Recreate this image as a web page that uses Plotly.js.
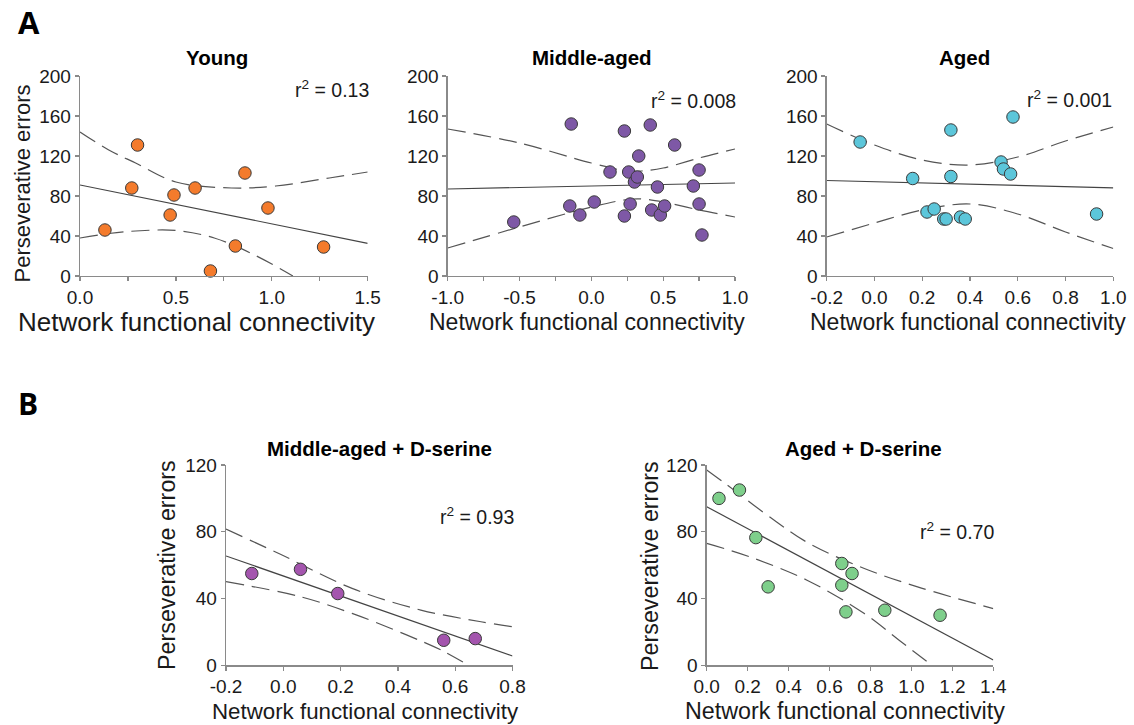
<!DOCTYPE html>
<html>
<head>
<meta charset="utf-8">
<script src="https://cdn.plot.ly/plotly-3.0.1.min.js"></script>
<style>
html,body{margin:0;padding:0;background:#fff;}
#chart{width:1134px;height:725px;}
</style>
</head>
<body>
<div id="chart"></div>
<script>
// ---------- Data ----------
// Young
var youngX = [0.13, 0.30, 0.27, 0.49, 0.47, 0.60, 0.86, 0.98, 0.81, 0.68, 1.27];
var youngY = [46, 131, 88, 81, 61, 88, 103, 68, 30, 5, 29];
var youngFitX = [0, 1.5];
var youngFitY = [91, 32.7];
var youngUpperX = [0, 0.15, 0.29, 0.5, 0.79, 1.02, 1.3, 1.5];
var youngUpperY = [144, 126, 113, 94, 88, 90, 98, 104];
var youngLowerX = [0, 0.15, 0.29, 0.5, 0.7, 0.91, 1.11];
var youngLowerY = [38, 42.5, 45, 45.5, 38, 21, 0];

// Middle-aged
var midX = [-0.54, -0.14, -0.15, -0.08, 0.02, 0.13, 0.23, 0.26, 0.23, 0.27, 0.30, 0.32, 0.33, 0.41, 0.42, 0.46, 0.48, 0.51, 0.58, 0.71, 0.75, 0.75, 0.77];
var midY = [54, 152, 70, 61, 74, 104, 145, 104, 60, 72, 94, 99, 120, 151, 66, 89, 61, 70, 131, 90, 106, 72, 41];
var midFitX = [-1, 1];
var midFitY = [87, 93];
var midUpperX = [-1, -0.5, 0, 0.25, 0.35, 0.5, 0.75, 1];
var midUpperY = [147, 133, 113, 105, 105, 108, 118, 127];
var midLowerX = [-1, -0.5, 0, 0.25, 0.35, 0.5, 0.75, 1];
var midLowerY = [28, 49, 69, 76.5, 77, 74, 66, 59];

// Aged
var agedX = [-0.06, 0.16, 0.32, 0.32, 0.22, 0.25, 0.29, 0.30, 0.36, 0.38, 0.53, 0.54, 0.57, 0.58, 0.93];
var agedY = [134, 97.5, 99.5, 146, 64, 67, 57, 57, 59, 57, 114, 107, 102, 159, 62];
var agedFitX = [-0.2, 1.0];
var agedFitY = [95.5, 88.2];
var agedUpperX = [-0.2, 0, 0.2, 0.4, 0.6, 0.8, 1.0];
var agedUpperY = [152, 131, 116, 111, 119, 135, 149];
var agedLowerX = [-0.2, 0, 0.2, 0.4, 0.6, 0.8, 1.0];
var agedLowerY = [39, 53, 66, 72, 62, 44, 27.5];

// Middle-aged + D-serine
var mdsX = [-0.11, 0.06, 0.19, 0.56, 0.67];
var mdsY = [55, 57.5, 43, 15, 16];
var mdsFitX = [-0.2, 0.8];
var mdsFitY = [65.5, 5.6];
var mdsUpperX = [-0.2, -0.01, 0.24, 0.48, 0.69, 0.8];
var mdsUpperY = [81.6, 66.5, 46.1, 33.1, 26.1, 23.1];
var mdsLowerX = [-0.2, 0.06, 0.24, 0.43, 0.55, 0.646];
var mdsLowerY = [50.1, 41.1, 31.1, 18.2, 9.2, 0];

// Aged + D-serine
var adsX = [0.06, 0.16, 0.24, 0.30, 0.66, 0.71, 0.66, 0.68, 0.87, 1.14];
var adsY = [100, 105, 76.5, 47, 61, 55, 48, 32, 33, 30];
var adsFitX = [0, 1.4];
var adsFitY = [95, 3.2];
var adsUpperX = [0, 0.1, 0.34, 0.5, 0.77, 1.03, 1.4];
var adsUpperY = [117, 108, 86, 73, 58, 47, 34];
var adsLowerX = [0, 0.21, 0.49, 0.77, 0.94, 1.10];
var adsLowerY = [73, 65, 51, 31, 15, 0];

// Tick labels
var youngTickVals = [0, 0.5, 1.0, 1.5];
var youngTickText = ['0.0', '0.5', '1.0', '1.5'];
var midTickVals = [-1, -0.5, 0, 0.5, 1];
var midTickText = ['-1.0', '-0.5', '0.0', '0.5', '1.0'];
var agedTickVals = [-0.2, 0, 0.2, 0.4, 0.6, 0.8, 1.0];
var agedTickText = ['-0.2', '0.0', '0.2', '0.4', '0.6', '0.8', '1.0'];
var mdsTickVals = [-0.2, 0, 0.2, 0.4, 0.6, 0.8];
var mdsTickText = ['-0.2', '0.0', '0.2', '0.4', '0.6', '0.8'];
var adsTickVals = [0, 0.2, 0.4, 0.6, 0.8, 1.0, 1.2, 1.4];
var adsTickText = ['0.0', '0.2', '0.4', '0.6', '0.8', '1.0', '1.2', '1.4'];

// Labels
var panelTitles = ['Young', 'Middle-aged', 'Aged', 'Middle-aged + D-serine', 'Aged + D-serine'];
var r2Labels = ['0.13', '0.008', '0.001', '0.93', '0.70'];
var xTitle = 'Network functional connectivity';
var yTitle = 'Perseverative errors';

// ---------- Build ----------
var W = 1134, H = 725;
function px(x){ return x / W; }
function py(y){ return 1 - y / H; }

var colors = ['#F47B2C', '#7E58A6', '#5CC6DA', '#A455AE', '#7ECF8B'];
var panels = [
  {x: youngX, y: youngY, fx: youngFitX, fy: youngFitY, ux: youngUpperX, uy: youngUpperY, lx: youngLowerX, ly: youngLowerY, tv: youngTickVals, tt: youngTickText},
  {x: midX, y: midY, fx: midFitX, fy: midFitY, ux: midUpperX, uy: midUpperY, lx: midLowerX, ly: midLowerY, tv: midTickVals, tt: midTickText},
  {x: agedX, y: agedY, fx: agedFitX, fy: agedFitY, ux: agedUpperX, uy: agedUpperY, lx: agedLowerX, ly: agedLowerY, tv: agedTickVals, tt: agedTickText},
  {x: mdsX, y: mdsY, fx: mdsFitX, fy: mdsFitY, ux: mdsUpperX, uy: mdsUpperY, lx: mdsLowerX, ly: mdsLowerY, tv: mdsTickVals, tt: mdsTickText},
  {x: adsX, y: adsY, fx: adsFitX, fy: adsFitY, ux: adsUpperX, uy: adsUpperY, lx: adsLowerX, ly: adsLowerY, tv: adsTickVals, tt: adsTickText}
];

// pixel boxes of each plot area [left, right, top, bottom]
var boxes = [
  [80, 367.7, 76, 276],
  [447.7, 735, 76, 276],
  [826.7, 1113.3, 76, 276],
  [226, 512.5, 465, 665.3],
  [706.7, 993.3, 465, 665.3]
];
var xRanges = [[0, 1.5], [-1, 1], [-0.2, 1.0], [-0.2, 0.8], [0, 1.4]];
var yRanges = [[0, 200], [0, 200], [0, 200], [0, 120], [0, 120]];
var xMinor = [0.25, 0.25, null, null, null];

var traces = [];
var layout = {
  width: W, height: H,
  margin: {l: 0, r: 0, t: 0, b: 0},
  paper_bgcolor: '#ffffff',
  plot_bgcolor: '#ffffff',
  showlegend: false,
  font: {family: 'Arial, "Liberation Sans", sans-serif', color: '#1a1a1a'},
  annotations: []
};

var axisColor = '#8a8a8a';
var dashStyle = '18px,8px';
var tickFontSize = 19;

panels.forEach(function(p, i){
  var n = i === 0 ? '' : String(i + 1);
  var xa = 'x' + n, ya = 'y' + n;
  traces.push({x: p.ux, y: p.uy, xaxis: xa, yaxis: ya, mode: 'lines', type: 'scatter',
    line: {color: '#555', width: 1.2, dash: dashStyle, shape: 'spline', smoothing: 1}, hoverinfo: 'skip'});
  traces.push({x: p.lx, y: p.ly, xaxis: xa, yaxis: ya, mode: 'lines', type: 'scatter',
    line: {color: '#555', width: 1.2, dash: dashStyle, shape: 'spline', smoothing: 1}, hoverinfo: 'skip'});
  traces.push({x: p.fx, y: p.fy, xaxis: xa, yaxis: ya, mode: 'lines', type: 'scatter',
    line: {color: '#444', width: 1.2}, hoverinfo: 'skip'});
  traces.push({x: p.x, y: p.y, xaxis: xa, yaxis: ya, mode: 'markers', type: 'scatter',
    marker: {color: colors[i], size: 12.5, line: {color: '#3a3a3a', width: 1}}, cliponaxis: false});

  var b = boxes[i];
  var xaxis = {
    domain: [px(b[0]), px(b[1])],
    anchor: ya,
    range: xRanges[i],
    showline: true, linecolor: axisColor, linewidth: 1.3,
    ticks: 'outside', ticklen: 4, tickwidth: 1.2, tickcolor: axisColor,
    tickmode: 'array', tickvals: p.tv, ticktext: p.tt,
    showgrid: false, zeroline: false, fixedrange: true,
    tickfont: {size: tickFontSize, color: '#1a1a1a'}
  };
  if (xMinor[i]) {
    xaxis.minor = {tickmode: 'linear', tick0: xRanges[i][0], dtick: xMinor[i], ticks: 'outside', ticklen: 4, tickwidth: 1.2, tickcolor: axisColor, showgrid: false};
  }
  var yaxis = {
    domain: [py(b[3]), py(b[2])],
    anchor: xa,
    range: yRanges[i],
    showline: true, linecolor: axisColor, linewidth: 1.3,
    ticks: 'outside', ticklen: 4, tickwidth: 1.2, tickcolor: axisColor,
    tick0: 0, dtick: 40, showgrid: false, zeroline: false, fixedrange: true,
    tickfont: {size: tickFontSize, color: '#1a1a1a'}
  };
  layout['xaxis' + n] = xaxis;
  layout['yaxis' + n] = yaxis;
});

function ann(text, x, y, opts){
  var a = {text: text, x: px(x), y: py(y), xref: 'paper', yref: 'paper', showarrow: false,
    xanchor: 'center', yanchor: 'middle', font: {size: 18, color: '#1a1a1a'}};
  for (var k in opts) a[k] = opts[k];
  layout.annotations.push(a);
}

// Panel letters
ann('<b>A</b>', 28.5, 22, {font: {size: 31, family: '"Open Sans", Arial, sans-serif', color: '#000'}});
ann('<b>B</b>', 28, 404, {font: {size: 30, family: '"Open Sans", Arial, sans-serif', color: '#000'}});

// Panel titles
var titlePos = [[217, 58], [592, 57], [964, 57], [379, 448], [863, 448]];
panelTitles.forEach(function(t, i){
  ann('<b>' + t + '</b>', titlePos[i][0], titlePos[i][1], {font: {size: 20.5, color: '#000'}});
});

// r^2 labels
var r2Pos = [[371, 89], [738, 100], [1114, 99], [516, 516], [996, 531]];
r2Labels.forEach(function(t, i){
  ann('r<sup>2</sup> = ' + t, r2Pos[i][0], r2Pos[i][1], {xanchor: 'right', font: {size: 19.5, color: '#1a1a1a'}});
});

// Axis titles
var xtPos = [[196, 322, 26], [587, 322, 23], [968, 322, 23], [365, 711, 22.3], [845, 711, 23.3]];
xtPos.forEach(function(p){
  ann(xTitle, p[0], p[1], {font: {size: p[2], color: '#1a1a1a'}});
});
var ytPos = [[22, 183.5, 22], [167, 565, 23.3], [650, 566, 23.3]];
ytPos.forEach(function(p){
  ann(yTitle, p[0], p[1], {textangle: -90, font: {size: p[2], color: '#1a1a1a'}});
});

Plotly.newPlot('chart', traces, layout, {displayModeBar: false, staticPlot: true});
</script>
</body>
</html>
